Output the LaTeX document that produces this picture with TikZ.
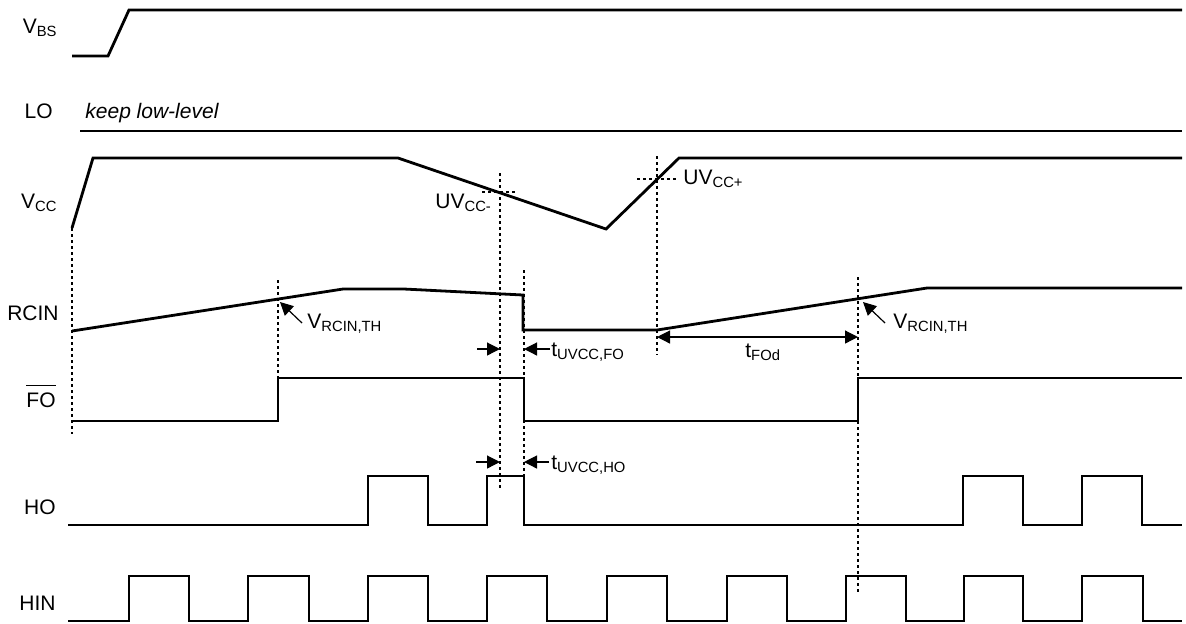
\documentclass[tikz,border=0pt]{standalone}
\usepackage{fontspec}
\setmainfont{Liberation Sans}
\usetikzlibrary{arrows.meta}
\newcommand{\lsub}[1]{\raisebox{-1.6pt}{\fontsize{7.4}{8}\selectfont #1}}
\newcommand{\ovl}[1]{\leavevmode\vbox{\hrule height 0.7pt\kern 3pt\hbox{#1}}}

\begin{document}
\begin{tikzpicture}[x=0.5pt,y=-0.5pt,
  every node/.style={inner sep=0pt,font=\fontsize{10.5}{12}\selectfont},
  sig/.style={line width=1.4pt},
  guide/.style={line width=0.9pt,dash pattern=on 1.5pt off 1.5pt},
  dim/.style={line width=0.6pt,-{Triangle[length=6.5pt,width=6.5pt]}},
  lbl/.style={anchor=base east}]
\useasboundingbox (0,0) rectangle (1186,623);

\node[lbl] (vbs) at (57,33) {V\lsub{BS}};
\node[lbl] (lo) at (53,118) {LO};
\node[lbl] (vcc) at (57,208) {V\lsub{CC}};
\node[lbl] (rcin) at (59,320) {RCIN};
\node[lbl] (fo) at (56,407) {\ovl{FO}};
\node[lbl] (ho) at (56,514) {HO};
\node[lbl] (hin) at (56,610) {HIN};
\node[anchor=base west,font=\fontsize{10.5}{12}\selectfont\itshape] (keep) at (85,118) {keep low-level};

\draw[sig] (72,56) -- (108,56) -- (129,10) -- (1182,10);
\draw[sig] (80,131) -- (1182,131);
\draw[sig] (72,228) -- (93,158) -- (398,158) -- (606,229) -- (679,158) -- (1182,158);
\draw[sig] (72,331) -- (343,289) -- (404,289) -- (523,295) -- (523,330) -- (657,330) -- (927,288) -- (1182,288);
\draw[sig] (72,421) -- (278,421) -- (278,378) -- (524,378) -- (524,421) -- (858,421) -- (858,378) -- (1182,378);
\draw[sig] (68,525) -- (368,525) -- (368,476) -- (428,476) -- (428,525) -- (487,525) -- (487,476) -- (524,476) -- (524,525)
  -- (963,525) -- (963,476) -- (1023,476) -- (1023,525) -- (1082,525) -- (1082,476) -- (1142,476) -- (1142,525) -- (1182,525);
\draw[sig] (68,621) -- (129,621) -- (129,576) -- (189,576) -- (189,621) -- (248,621) -- (248,576) -- (309,576) -- (309,621)
  -- (368,621) -- (368,576) -- (428,576) -- (428,621) -- (487,621) -- (487,576) -- (547,576) -- (547,621)
  -- (607,621) -- (607,576) -- (667,576) -- (667,621) -- (727,621) -- (727,576) -- (787,576) -- (787,621)
  -- (846,621) -- (846,576) -- (906,576) -- (906,621) -- (964,621) -- (964,576) -- (1023,576) -- (1023,621)
  -- (1082,621) -- (1082,576) -- (1143,576) -- (1143,621) -- (1182,621);

\draw[guide] (72,228) -- (72,434);
\draw[guide] (278,280) -- (278,378);
\draw[guide] (500,173) -- (500,488);
\draw[guide] (524,270) -- (524,476);
\draw[guide] (657,156) -- (657,355);
\draw[guide] (858,277) -- (858,592);
\draw[guide] (482,192) -- (517,192);
\draw[guide] (637,179) -- (678,179);

\node[anchor=base west] (uvm) at (435,208) {UV\lsub{CC-}};
\node[anchor=base west] (uvp) at (683,184) {UV\lsub{CC+}};
\node[anchor=base west] (th1) at (307,328) {V\lsub{RCIN,TH}};
\node[anchor=base west] (th2) at (893,328) {V\lsub{RCIN,TH}};
\node[anchor=base west] (tfo) at (551,356) {t\lsub{UVCC,FO}};
\node[anchor=base west] (tho) at (551,469) {t\lsub{UVCC,HO}};
\node[anchor=base west] (tfod) at (745,357) {t\lsub{FOd}};

\draw[dim] (302,323) -- (280,302);
\draw[dim] (885,323) -- (863,302);
\draw[dim] (477,349) -- (500,349);
\draw[dim] (550,349) -- (524,349);
\draw[dim] (476,462) -- (500,462);
\draw[dim] (549,462) -- (524,462);
\draw[dim,{Triangle[length=6.5pt,width=6.5pt]}-{Triangle[length=6.5pt,width=6.5pt]}] (657,337) -- (858,337);
\end{tikzpicture}
\end{document}
